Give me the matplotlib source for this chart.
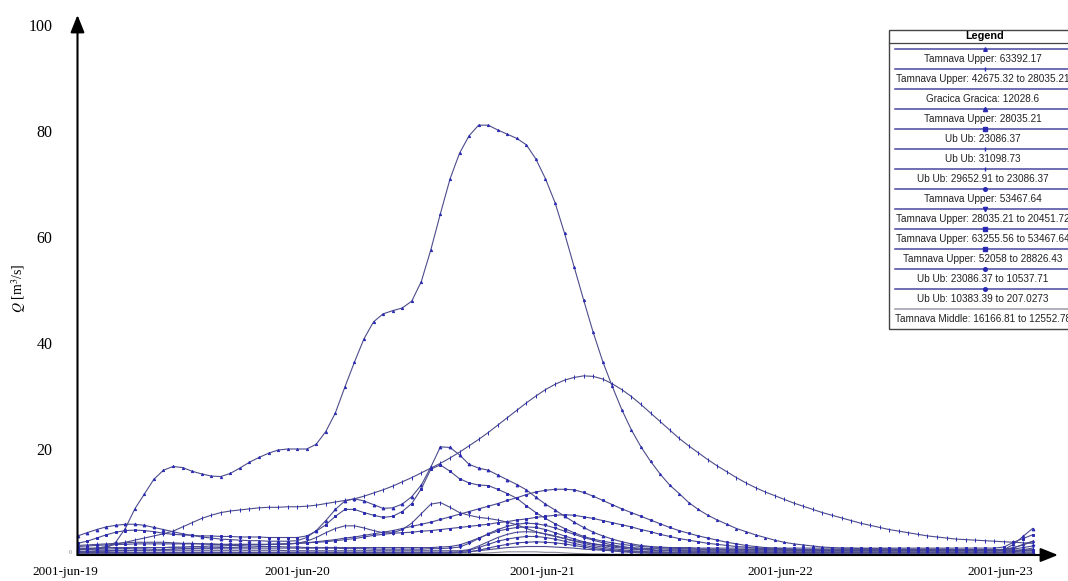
import numpy as np
import matplotlib
matplotlib.use("Agg")
import matplotlib.pyplot as plt
from matplotlib.patches import Rectangle

plt.rcParams['font.family'] = ['Liberation Serif', 'DejaVu Serif']
plt.rcParams['mathtext.fontset'] = 'stix'

# ---------------- data (hourly discharge, m3/s) ----------------
hours = np.arange(101)
date_labels = ['2001-jun-19', '2001-jun-20', '2001-jun-21', '2001-jun-22', '2001-jun-23']
y_ticks = [20, 40, 60, 80, 100]

legend_labels = [
    'Tamnava Upper: 63392.17',
    'Tamnava Upper: 42675.32 to 28035.21',
    'Gracica Gracica: 12028.6',
    'Tamnava Upper: 28035.21',
    'Ub Ub: 23086.37',
    'Ub Ub: 31098.73',
    'Ub Ub: 29652.91 to 23086.37',
    'Tamnava Upper: 53467.64',
    'Tamnava Upper: 28035.21 to 20451.72',
    'Tamnava Upper: 63255.56 to 53467.64',
    'Tamnava Upper: 52058 to 28826.43',
    'Ub Ub: 23086.37 to 10537.71',
    'Ub Ub: 10383.39 to 207.0273',
    'Tamnava Middle: 16166.81 to 12552.78',
]

q_tu_63392 = [1.2, 1.2, 1.2, 1.3, 2.4, 5.0, 8.7, 11.5, 14.3, 16.0,
              16.7, 16.5, 15.8, 15.3, 14.9, 14.8, 15.4, 16.4, 17.5, 18.4,
              19.2, 19.8, 20.0, 20.0, 20.0, 20.9, 23.3, 26.8, 31.7, 36.4,
              40.8, 44.0, 45.5, 46.1, 46.6, 47.9, 51.6, 57.6, 64.4, 70.9,
              75.8, 79.1, 81.1, 81.1, 80.2, 79.4, 78.6, 77.4, 74.7, 71.0,
              66.5, 60.7, 54.4, 48.1, 42.0, 36.5, 31.8, 27.4, 23.6, 20.4,
              17.7, 15.3, 13.2, 11.6, 9.9, 8.6, 7.5, 6.6, 5.8, 5.0,
              4.4, 3.8, 3.3, 2.8, 2.4, 2.1, 1.9, 1.7, 1.5, 1.4,
              1.3, 1.3, 1.2, 1.2, 1.2, 1.2, 1.1, 1.1, 1.1, 1.1,
              1.1, 1.1, 1.0, 1.0, 1.0, 1.0, 1.0, 1.0, 1.3, 2.0, 2.6]

q_tu_42675 = [1.0, 1.1, 1.3, 1.6, 2.0, 2.4, 2.8, 3.2, 3.6, 4.0,
              4.5, 5.3, 6.1, 6.9, 7.5, 8.0, 8.3, 8.5, 8.7, 8.9,
              9.0, 9.0, 9.1, 9.1, 9.2, 9.4, 9.7, 10.0, 10.3, 10.6,
              11.1, 11.7, 12.3, 13.0, 13.8, 14.6, 15.5, 16.4, 17.3, 18.3,
              19.4, 20.6, 21.8, 23.1, 24.5, 25.9, 27.3, 28.7, 30.0, 31.2,
              32.2, 33.0, 33.5, 33.8, 33.7, 33.2, 32.3, 31.2, 29.9, 28.4,
              26.8, 25.2, 23.6, 22.0, 20.6, 19.3, 18.0, 16.8, 15.7, 14.6,
              13.6, 12.7, 11.9, 11.2, 10.5, 9.8, 9.2, 8.6, 8.0, 7.5,
              7.0, 6.5, 6.0, 5.6, 5.2, 4.8, 4.5, 4.2, 3.9, 3.6,
              3.4, 3.2, 3.0, 2.9, 2.8, 2.7, 2.6, 2.5, 2.4, 2.3, 2.2]

q_gracica = [0.45, 0.45, 0.45, 0.5, 0.5, 0.5, 0.5, 0.5, 0.5, 0.5,
             0.5, 0.5, 0.5, 0.5, 0.5, 0.5, 0.5, 0.5, 0.5, 0.5,
             0.5, 0.5, 0.5, 0.5, 0.5, 0.5, 0.5, 0.5, 0.5, 0.5,
             0.5, 0.5, 0.5, 0.5, 0.5, 0.5, 0.5, 0.5, 0.5, 0.5,
             0.5, 0.6, 0.8, 1.0, 1.2, 1.4, 1.5, 1.6, 1.6, 1.6,
             1.5, 1.4, 1.3, 1.1, 1.0, 0.9, 0.8, 0.7, 0.6, 0.6,
             0.5, 0.5, 0.5, 0.5, 0.5, 0.5, 0.5, 0.5, 0.5, 0.5,
             0.5, 0.5, 0.5, 0.5, 0.5, 0.5, 0.5, 0.5, 0.5, 0.5,
             0.5, 0.5, 0.5, 0.5, 0.5, 0.5, 0.5, 0.5, 0.5, 0.5,
             0.5, 0.5, 0.5, 0.5, 0.5, 0.5, 0.5, 0.5, 0.6, 0.8, 1.0]

q_tu_28035 = [3.6, 4.2, 4.8, 5.3, 5.6, 5.8, 5.8, 5.6, 5.2, 4.8,
              4.4, 4.0, 3.7, 3.4, 3.2, 3.0, 2.9, 2.8, 2.7, 2.7,
              2.6, 2.6, 2.6, 2.7, 3.3, 4.6, 6.5, 8.6, 10.2, 10.6,
              10.2, 9.5, 8.8, 8.9, 9.6, 11.0, 13.2, 16.6, 20.4, 20.3,
              18.9, 17.1, 16.4, 16.0, 15.1, 14.2, 13.3, 12.3, 10.9, 9.6,
              8.5, 7.3, 6.2, 5.2, 4.3, 3.6, 3.0, 2.5, 2.1, 1.8,
              1.6, 1.4, 1.3, 1.2, 1.2, 1.1, 1.1, 1.1, 1.0, 1.0,
              1.0, 1.0, 1.0, 1.0, 0.9, 0.9, 0.9, 0.9, 0.9, 0.9,
              0.9, 0.9, 0.9, 0.9, 0.9, 0.9, 0.9, 0.9, 0.9, 0.9,
              0.9, 0.9, 0.9, 0.9, 0.9, 0.9, 0.9, 1.0, 2.0, 3.5, 5.0]

q_ub_23086 = [2.2, 2.6, 3.2, 3.8, 4.3, 4.6, 4.7, 4.6, 4.4, 4.1,
              3.9, 3.8, 3.7, 3.6, 3.6, 3.5, 3.5, 3.4, 3.4, 3.4,
              3.3, 3.3, 3.3, 3.3, 3.6, 4.5, 5.7, 7.3, 8.6, 8.6,
              8.0, 7.5, 7.1, 7.3, 8.2, 9.7, 12.5, 16.2, 17.0, 15.8,
              14.4, 13.6, 13.2, 13.1, 12.4, 11.6, 10.7, 9.3, 8.0, 6.9,
              5.9, 5.0, 4.2, 3.5, 3.0, 2.6, 2.3, 2.0, 1.8, 1.6,
              1.5, 1.5, 1.4, 1.4, 1.4, 1.3, 1.3, 1.3, 1.3, 1.3,
              1.3, 1.3, 1.3, 1.3, 1.3, 1.3, 1.3, 1.3, 1.3, 1.3,
              1.3, 1.3, 1.3, 1.3, 1.3, 1.3, 1.3, 1.3, 1.3, 1.3,
              1.3, 1.3, 1.3, 1.3, 1.3, 1.3, 1.3, 1.5, 2.4, 3.1, 3.8]

q_ub_31098 = [1.8, 1.9, 2.0, 2.1, 2.2, 2.3, 2.4, 2.4, 2.4, 2.4,
              2.3, 2.2, 2.2, 2.1, 2.1, 2.0, 2.0, 2.0, 2.0, 2.0,
              2.0, 2.0, 2.1, 2.2, 2.6, 3.3, 4.2, 5.0, 5.5, 5.5,
              5.1, 4.6, 4.2, 4.2, 4.8, 6.0, 7.8, 9.6, 9.9, 9.0,
              8.0, 7.5, 7.1, 6.9, 6.6, 6.2, 5.7, 5.0, 4.4, 3.9,
              3.5, 3.1, 2.7, 2.4, 2.1, 1.9, 1.7, 1.5, 1.4, 1.3,
              1.2, 1.2, 1.1, 1.1, 1.1, 1.1, 1.0, 1.0, 1.0, 1.0,
              1.0, 1.0, 1.0, 1.0, 1.0, 1.0, 1.0, 1.0, 1.0, 1.0,
              1.0, 1.0, 1.0, 1.0, 1.0, 1.0, 1.0, 1.0, 1.0, 1.0,
              1.0, 1.0, 1.0, 1.0, 1.0, 1.0, 1.0, 1.1, 1.4, 1.9, 2.5]

q_ub_29652 = [0.7, 0.7, 0.8, 0.8, 0.9, 0.9, 0.9, 0.9, 0.9, 0.9,
              0.9, 0.9, 0.9, 0.9, 0.9, 0.9, 0.9, 0.9, 0.9, 0.9,
              0.9, 0.9, 0.8, 0.8, 0.8, 0.8, 0.8, 0.8, 0.8, 0.8,
              0.8, 0.8, 0.8, 0.8, 0.8, 0.8, 0.8, 0.8, 0.8, 0.8,
              0.8, 1.0, 1.7, 2.5, 3.3, 3.9, 4.3, 4.4, 4.3, 4.0,
              3.6, 3.1, 2.6, 2.2, 1.8, 1.5, 1.2, 1.0, 0.8, 0.7,
              0.6, 0.6, 0.5, 0.5, 0.5, 0.5, 0.5, 0.5, 0.5, 0.5,
              0.5, 0.5, 0.5, 0.5, 0.5, 0.5, 0.5, 0.5, 0.5, 0.5,
              0.5, 0.5, 0.5, 0.5, 0.5, 0.5, 0.5, 0.5, 0.5, 0.5,
              0.5, 0.5, 0.5, 0.5, 0.5, 0.5, 0.5, 0.5, 0.7, 1.0, 1.3]

q_tu_53467 = [1.0, 1.0, 1.1, 1.1, 1.2, 1.2, 1.3, 1.3, 1.4, 1.4,
              1.5, 1.5, 1.6, 1.6, 1.7, 1.7, 1.8, 1.8, 1.9, 1.9,
              2.0, 2.1, 2.1, 2.2, 2.3, 2.5, 2.7, 2.9, 3.2, 3.4,
              3.7, 4.0, 4.3, 4.6, 5.0, 5.4, 5.8, 6.2, 6.7, 7.2,
              7.7, 8.2, 8.7, 9.2, 9.7, 10.3, 10.8, 11.4, 11.9, 12.2,
              12.4, 12.4, 12.3, 11.8, 11.1, 10.3, 9.5, 8.7, 8.0, 7.3,
              6.6, 5.9, 5.2, 4.6, 4.1, 3.6, 3.2, 2.8, 2.4, 2.1,
              1.8, 1.6, 1.4, 1.3, 1.2, 1.1, 1.0, 1.0, 0.9, 0.9,
              0.9, 0.9, 0.9, 0.9, 0.9, 0.9, 0.9, 0.9, 0.9, 0.9,
              0.9, 0.9, 0.9, 0.9, 0.9, 0.9, 0.9, 0.9, 0.9, 0.9, 0.9]

q_tu_28035_20451 = [0.6, 0.6, 0.7, 0.7, 0.8, 0.8, 0.9, 0.9, 1.0, 1.0,
                    1.1, 1.2, 1.2, 1.3, 1.3, 1.4, 1.4, 1.5, 1.5, 1.6,
                    1.6, 1.6, 1.5, 1.5, 1.4, 1.4, 1.3, 1.3, 1.2, 1.2,
                    1.2, 1.1, 1.1, 1.1, 1.1, 1.1, 1.1, 1.2, 1.2, 1.3,
                    1.5, 2.2, 3.1, 4.0, 4.8, 5.4, 5.8, 6.0, 5.9, 5.6,
                    5.1, 4.5, 3.9, 3.3, 2.8, 2.3, 1.9, 1.6, 1.3, 1.1,
                    1.0, 0.9, 0.9, 0.9, 0.8, 0.8, 0.8, 0.8, 0.8, 0.8,
                    0.8, 0.8, 0.8, 0.8, 0.8, 0.8, 0.8, 0.8, 0.8, 0.8,
                    0.8, 0.8, 0.8, 0.8, 0.8, 0.8, 0.8, 0.8, 0.8, 0.8,
                    0.8, 0.8, 0.8, 0.8, 0.8, 0.8, 0.8, 0.9, 1.1, 1.4, 1.7]

q_tu_63255 = [1.6, 1.7, 1.8, 1.9, 2.0, 2.0, 2.1, 2.1, 2.1, 2.1,
              2.1, 2.1, 2.1, 2.1, 2.0, 2.0, 2.0, 2.0, 2.0, 2.0,
              2.0, 2.0, 2.1, 2.2, 2.3, 2.4, 2.5, 2.7, 2.9, 3.1,
              3.4, 3.7, 3.9, 4.1, 4.2, 4.3, 4.5, 4.6, 4.8, 5.0,
              5.2, 5.4, 5.6, 5.8, 6.1, 6.3, 6.6, 6.8, 7.1, 7.3,
              7.5, 7.6, 7.5, 7.2, 6.9, 6.5, 6.1, 5.7, 5.3, 4.8,
              4.4, 3.9, 3.5, 3.1, 2.8, 2.5, 2.2, 2.0, 1.8, 1.6,
              1.5, 1.3, 1.2, 1.1, 1.0, 1.0, 0.9, 0.9, 0.9, 0.9,
              0.9, 0.9, 0.9, 0.9, 0.9, 0.9, 0.9, 0.9, 0.9, 0.9,
              0.9, 0.9, 0.9, 0.9, 0.9, 0.9, 0.9, 0.9, 0.9, 0.9, 0.9]

q_tu_52058 = [1.3, 1.3, 1.3, 1.4, 1.4, 1.4, 1.4, 1.4, 1.4, 1.4,
              1.4, 1.3, 1.3, 1.3, 1.3, 1.3, 1.3, 1.3, 1.3, 1.3,
              1.3, 1.3, 1.3, 1.3, 1.3, 1.3, 1.4, 1.4, 1.4, 1.4,
              1.4, 1.4, 1.4, 1.4, 1.4, 1.4, 1.4, 1.4, 1.5, 1.6,
              1.9, 2.5, 3.2, 3.9, 4.5, 4.9, 5.2, 5.3, 5.2, 4.8,
              4.2, 3.6, 3.0, 2.5, 2.1, 1.8, 1.5, 1.3, 1.1, 1.0,
              0.9, 0.8, 0.8, 0.7, 0.7, 0.7, 0.6, 0.6, 0.6, 0.6,
              0.6, 0.6, 0.6, 0.6, 0.6, 0.6, 0.6, 0.6, 0.6, 0.6,
              0.6, 0.6, 0.6, 0.6, 0.6, 0.6, 0.6, 0.6, 0.6, 0.6,
              0.6, 0.6, 0.6, 0.6, 0.6, 0.6, 0.6, 0.6, 0.6, 0.6, 0.6]

q_ub_23086_10537 = [0.5, 0.5, 0.5, 0.5, 0.5, 0.5, 0.5, 0.5, 0.5, 0.5,
                    0.5, 0.5, 0.5, 0.5, 0.5, 0.5, 0.5, 0.5, 0.5, 0.5,
                    0.5, 0.5, 0.5, 0.5, 0.5, 0.5, 0.5, 0.5, 0.5, 0.5,
                    0.5, 0.5, 0.5, 0.5, 0.5, 0.5, 0.5, 0.5, 0.5, 0.5,
                    0.6, 0.9, 1.4, 2.0, 2.6, 3.0, 3.3, 3.5, 3.5, 3.3,
                    3.0, 2.6, 2.2, 1.8, 1.5, 1.2, 1.0, 0.8, 0.6, 0.5,
                    0.4, 0.4, 0.4, 0.4, 0.4, 0.4, 0.4, 0.4, 0.4, 0.4,
                    0.4, 0.4, 0.4, 0.4, 0.4, 0.4, 0.4, 0.4, 0.4, 0.4,
                    0.4, 0.4, 0.4, 0.4, 0.4, 0.4, 0.4, 0.4, 0.4, 0.4,
                    0.4, 0.4, 0.4, 0.4, 0.4, 0.4, 0.4, 0.4, 0.4, 0.4, 0.4]

q_ub_10383 = [0.3, 0.3, 0.3, 0.3, 0.3, 0.3, 0.3, 0.3, 0.3, 0.3,
              0.3, 0.3, 0.3, 0.3, 0.3, 0.3, 0.3, 0.3, 0.3, 0.3,
              0.3, 0.3, 0.3, 0.3, 0.3, 0.3, 0.3, 0.3, 0.3, 0.3,
              0.3, 0.3, 0.3, 0.3, 0.3, 0.3, 0.3, 0.3, 0.3, 0.3,
              0.4, 0.6, 0.9, 1.3, 1.7, 2.0, 2.3, 2.4, 2.5, 2.4,
              2.3, 2.1, 1.8, 1.5, 1.2, 1.0, 0.8, 0.6, 0.5, 0.4,
              0.3, 0.3, 0.3, 0.3, 0.3, 0.3, 0.3, 0.3, 0.3, 0.3,
              0.3, 0.3, 0.3, 0.3, 0.3, 0.3, 0.3, 0.3, 0.3, 0.3,
              0.3, 0.3, 0.3, 0.3, 0.3, 0.3, 0.3, 0.3, 0.3, 0.3,
              0.3, 0.3, 0.3, 0.3, 0.3, 0.3, 0.3, 0.3, 0.3, 0.3, 0.3]

q_tm_16166 = [0.15, 0.15, 0.15, 0.15, 0.15, 0.15, 0.15, 0.15, 0.15, 0.15,
              0.15, 0.15, 0.15, 0.15, 0.15, 0.15, 0.15, 0.15, 0.15, 0.15,
              0.15, 0.15, 0.15, 0.15, 0.15, 0.15, 0.15, 0.15, 0.15, 0.15,
              0.15, 0.15, 0.15, 0.15, 0.15, 0.15, 0.15, 0.15, 0.15, 0.15,
              0.2, 0.25, 0.3, 0.4, 0.5, 0.6, 0.6, 0.6, 0.6, 0.5,
              0.5, 0.4, 0.3, 0.25, 0.2, 0.2, 0.15, 0.15, 0.15, 0.15,
              0.15, 0.15, 0.15, 0.15, 0.15, 0.15, 0.15, 0.15, 0.15, 0.15,
              0.15, 0.15, 0.15, 0.15, 0.15, 0.15, 0.15, 0.15, 0.15, 0.15,
              0.15, 0.15, 0.15, 0.15, 0.15, 0.15, 0.15, 0.15, 0.15, 0.15,
              0.15, 0.15, 0.15, 0.15, 0.15, 0.15, 0.15, 0.15, 0.15, 0.15, 0.15]

series = [q_tu_63392, q_tu_42675, q_gracica, q_tu_28035, q_ub_23086, q_ub_31098,
          q_ub_29652, q_tu_53467, q_tu_28035_20451, q_tu_63255, q_tu_52058,
          q_ub_23086_10537, q_ub_10383, q_tm_16166]

# ---------------- styles / layout ----------------
markers = ['^', '|', '', '^', 's', '|', '|', 'o', 'v', 's', 's', 'o', 'o', '']
msizes = [1.6, 2.4, 0, 2.0, 2.0, 2.4, 2.0, 1.6, 2.0, 2.0, 2.0, 1.6, 1.6, 0]
line_col = '#4c4c8c'
mark_col = '#2a2ab4'
line_cols = [line_col] * 13 + ['#8a8a9a']

W, H = 1068, 581
PX_LEFT, PX_RIGHT, PY_ZERO, PY_TOP = 77.5, 1058, 555, 15
PX_PER_H, PX_PER_Q = 9.55, 5.3
label_hours = [-1.3, 23.0, 48.7, 73.6, 96.6]

fig = plt.figure(figsize=(W / 100, H / 100), dpi=100)
ax = fig.add_axes([PX_LEFT / W, 1 - PY_ZERO / H,
                   (PX_RIGHT - PX_LEFT) / W, (PY_ZERO - PY_TOP) / H])

for vals, m, ms, lc in zip(series, markers, msizes, line_cols):
    ax.plot(hours, vals, color=lc, lw=0.8, marker=m if m else None, ms=ms,
            mfc=mark_col, mec=mark_col, mew=0.7, clip_on=False, zorder=3)

for s in ax.spines.values():
    s.set_visible(False)

ax.set_yticks(y_ticks)
ax.set_yticklabels([str(v) for v in y_ticks])
ax.tick_params(axis='y', length=0, pad=18, labelsize=11.5)
ax.set_xticks([])

ax.set_xlim(0, (PX_RIGHT - PX_LEFT) / PX_PER_H)
ax.set_ylim(0, (PY_ZERO - PY_TOP) / PX_PER_Q)

# date labels (first one sits left of the y axis, so drawn as annotations)
for h, lab in zip(label_hours, date_labels):
    ax.annotate(lab, xy=(h, 0), xycoords=('data', 'axes fraction'),
                xytext=(0, -8), textcoords='offset points',
                ha='center', va='top', fontsize=9.5, annotation_clip=False)

arrow = dict(arrowstyle='-|>,head_length=0.7,head_width=0.28', lw=1.5,
             color='black', shrinkA=0, shrinkB=0, mutation_scale=15)
ax.annotate('', xy=(1, 0), xycoords='axes fraction', xytext=(0, 0),
            textcoords='axes fraction', arrowprops=arrow, zorder=5)
ax.annotate('', xy=(0, 1), xycoords='axes fraction', xytext=(0, 0),
            textcoords='axes fraction', arrowprops=arrow, zorder=5)

fig.text(19 / W, 1 - 288 / H, r'$Q$ [m$^3$/s]', rotation=90,
         ha='center', va='center', fontsize=10)
fig.text(70 / W, 1 - 553 / H, '0', fontsize=4, color='#777777',
         ha='center', va='center')

# ---------------- legend box ----------------
lax = fig.add_axes([0, 0, 1, 1], zorder=10)
lax.set_xlim(0, W)
lax.set_ylim(H, 0)
lax.axis('off')
lax.add_patch(Rectangle((889, 29.5), 220, 299.5, facecolor='white',
                        edgecolor='#444444', lw=1.0))
lax.text(985, 36, 'Legend', ha='center', va='center', fontsize=7.8,
         fontweight='bold', family=['Liberation Sans', 'DejaVu Sans'])
lax.plot([889, 1080], [43, 43], color='#444444', lw=0.9)
for k, (lab, m, ms) in enumerate(zip(legend_labels, markers, msizes)):
    yl = 48.5 + 20 * k
    col = '#4646a0' if k < 13 else '#9a9aa8'
    lax.plot([895, 1080], [yl, yl], color=col, lw=1.1)
    if m:
        lax.plot([985], [yl], marker=m, ms=ms + 1.0, color=mark_col,
                 mec=mark_col)
    lax.text(983, yl + 10, lab, ha='center', va='center', fontsize=7.2,
             family=['Liberation Sans', 'DejaVu Sans'], color='#222222')

fig.savefig('out.png', dpi=100)
